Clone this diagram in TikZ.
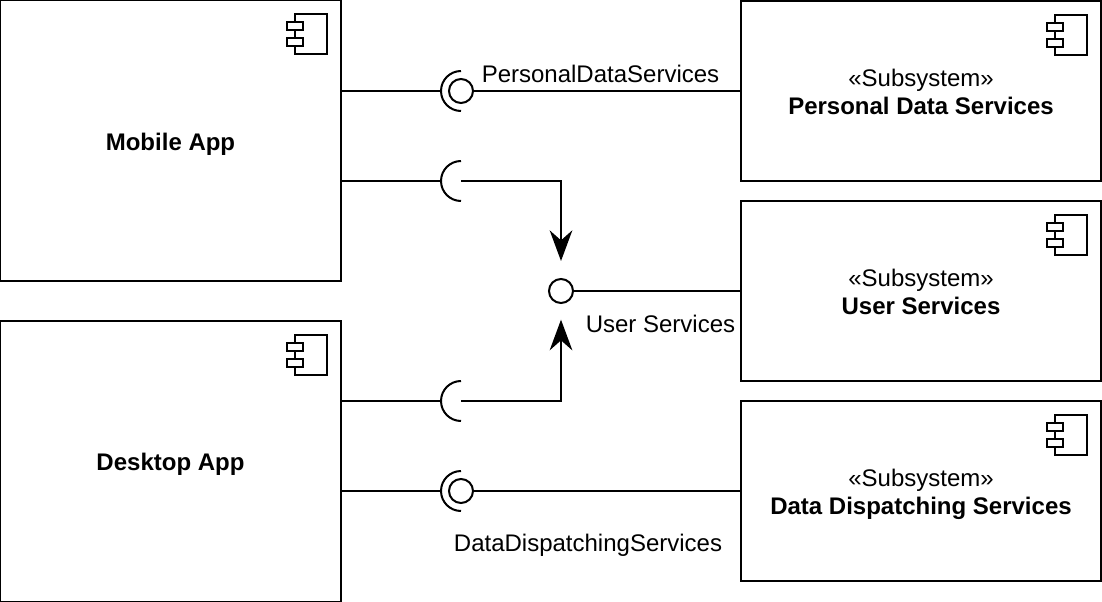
\documentclass[tikz,border=0pt]{standalone}
\usepackage{fontspec}
\setmainfont{Liberation Sans}
\usetikzlibrary{arrows.meta}

\newcommand{\topstrut}{\rule{0pt}{18.8pt}}
\newcommand{\botstrut}{\rule[-4pt]{0pt}{4pt}}

\tikzset{
    wire/.style={line width=1.5pt},
    compbox/.style={draw, line width=1.5pt, inner sep=0pt, align=center, font=\fontsize{18}{21}\selectfont},
    lolli/.style={circle, draw, line width=1.5pt, fill=white, inner sep=0pt, minimum size=18pt},
    iflabel/.style={font=\fontsize{18}{21}\selectfont, inner sep=0pt},
    comp icon/.pic={
        \draw[wire] (-47,15) rectangle (-15,55);
        \draw[wire, fill=white] (-55,23) rectangle (-39,31);
        \draw[wire, fill=white] (-55,39) rectangle (-39,47);
    }
}

\begin{document}
\begin{tikzpicture}[x=0.75pt, y=-0.75pt, >={Stealth[length=23pt, width=17pt, inset=7.5pt]}]
    \useasboundingbox (0,0) rectangle (1102,602);

    % Define the socket radius
    \def\RS{20}

    % Draw the components
    \node[compbox, minimum width=255.75pt, minimum height=210.75pt] (Mobile) at (170.5,140.5) {\topstrut\textbf{Mobile App}\botstrut};
    \node[compbox, minimum width=255.75pt, minimum height=210.75pt] (Desktop) at (170.5,461) {\topstrut\textbf{Desktop App}\botstrut};
    \node[compbox, minimum width=270pt, minimum height=135pt] (Personal) at (921,91) {\topstrut«Subsystem»\\\textbf{Personal Data Services}\botstrut};
    \node[compbox, minimum width=270pt, minimum height=135pt] (User) at (921,291) {\topstrut«Subsystem»\\\textbf{User Services}\botstrut};
    \node[compbox, minimum width=270pt, minimum height=135pt] (Dispatch) at (921,491) {\topstrut«Subsystem»\\\textbf{Data Dispatching Services}\botstrut};

    % Draw the component icons
    \pic at (Mobile.north east) {comp icon};
    \pic at (Desktop.north east) {comp icon};
    \pic at (Personal.north east) {comp icon};
    \pic at (User.north east) {comp icon};
    \pic at (Dispatch.north east) {comp icon};

    % Define the sockets and the provided interfaces
    \coordinate (SockPersonal) at (461,91);
    \coordinate (SockUserA) at (461,181);
    \coordinate (SockUserB) at (461,401);
    \coordinate (SockDispatch) at (461,491);
    \node[lolli] (IfPersonal) at (SockPersonal) {};
    \node[lolli] (IfUser) at (561,291) {};
    \node[lolli] (IfDispatch) at (SockDispatch) {};

    % Draw the socket arcs
    \foreach \s in {SockPersonal,SockUserA,SockUserB,SockDispatch}{
        \draw[wire] (\s) ++(0,-\RS) arc[start angle=90, end angle=270, radius=15pt];
    }

    % Draw the wires on the left
    \draw[wire] (Mobile.east |- SockPersonal) -- ++(100,0);
    \draw[wire] (Mobile.east |- SockUserA) -- ++(100,0);
    \draw[wire] (Desktop.east |- SockUserB) -- ++(100,0);
    \draw[wire] (Desktop.east |- SockDispatch) -- ++(100,0);

    % Draw the wires on the right
    \draw[wire] (IfPersonal) -- (Personal.west |- IfPersonal);
    \draw[wire] (IfUser) -- (User.west);
    \draw[wire] (IfDispatch) -- (Dispatch.west |- IfDispatch);

    % Draw the required interface arrows
    \draw[wire, ->, shorten >=22.5pt] (SockUserA) -| (IfUser.center);
    \draw[wire, ->, shorten >=21.5pt] (SockUserB) -| (IfUser.center);

    % Label the interfaces
    \node[iflabel] (LblPersonal) at (600.5,74) {PersonalDataServices};
    \node[iflabel] (LblUser) at (660.5,324) {User Services};
    \node[iflabel] (LblDispatch) at (588,545) {DataDispatchingServices};
\end{tikzpicture}
\end{document}
